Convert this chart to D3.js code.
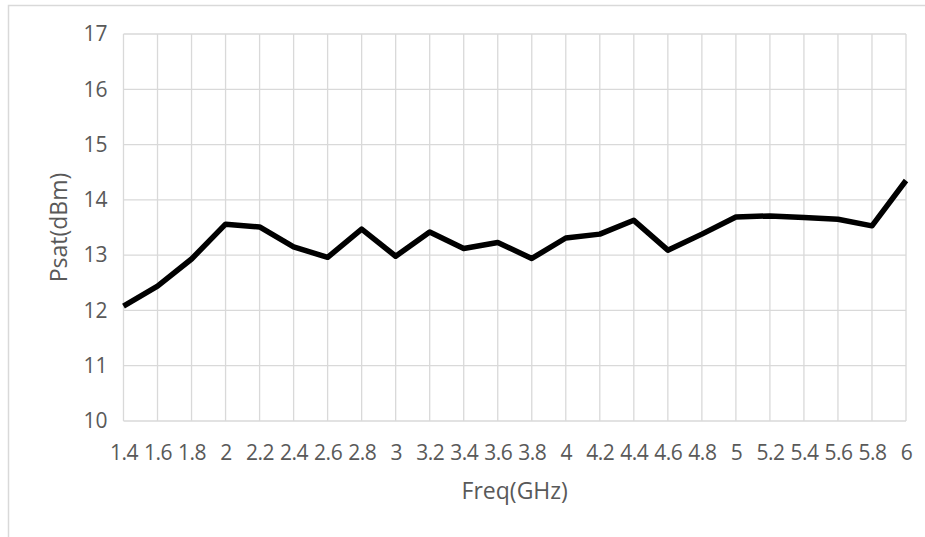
<!DOCTYPE html>
<html>
<head>
<meta charset="utf-8">
<script src="https://cdn.jsdelivr.net/npm/d3@7"></script>
<style>
  body { margin: 0; background: #fff; }
  text { font-family: "Open Sans", Lato, sans-serif; fill: #595959; }
</style>
</head>
<body>
<div id="chart"></div>
<script>
// data
const freqs = ["1.4","1.6","1.8","2","2.2","2.4","2.6","2.8","3","3.2","3.4","3.6",
  "3.8","4","4.2","4.4","4.6","4.8","5","5.2","5.4","5.6","5.8","6"];
const psat = [12.08,12.44,12.93,13.56,13.51,13.15,12.96,13.47,12.98,13.42,13.12,13.23,
  12.94,13.31,13.38,13.63,13.09,13.38,13.69,13.71,13.68,13.65,13.53,14.35];
const yTicks = [10,11,12,13,14,15,16,17];

const width = 925;
const height = 537;
const margin = { top: 34, right: 19, bottom: 116, left: 123.5 };
const innerW = width - margin.left - margin.right;
const innerH = height - margin.top - margin.bottom;

const svg = d3.select("#chart").append("svg")
  .attr("width", width)
  .attr("height", height);

// chart frame
svg.append("rect")
  .attr("x", 8.5).attr("y", 5.5)
  .attr("width", 1000).attr("height", 1000)
  .attr("fill", "none")
  .attr("stroke", "#d9d9d9")
  .attr("stroke-width", 1.5);

const g = svg.append("g")
  .attr("transform", `translate(${margin.left},${margin.top})`);

const x = d3.scalePoint().domain(freqs).range([0, innerW]);
const y = d3.scaleLinear().domain([10, 17]).range([innerH, 0]);

// grid
g.append("g")
  .selectAll("line")
  .data(yTicks)
  .enter().append("line")
  .attr("x1", 0).attr("x2", innerW)
  .attr("y1", (d) => y(d)).attr("y2", (d) => y(d))
  .attr("stroke", "#d9d9d9").attr("stroke-width", 1.3);

g.append("g")
  .selectAll("line")
  .data(freqs)
  .enter().append("line")
  .attr("x1", (d) => x(d)).attr("x2", (d) => x(d))
  .attr("y1", 0).attr("y2", innerH)
  .attr("stroke", "#d9d9d9").attr("stroke-width", 1.3);

// axes
const xAxis = g.append("g")
  .attr("transform", `translate(0,${innerH})`)
  .call(d3.axisBottom(x).tickSize(0).tickPadding(24));
xAxis.select(".domain").remove();
xAxis.selectAll("text")
  .style("font-size", "21px")
  .style("letter-spacing", "-0.5px")
  .attr("fill", "#595959");

const yAxis = g.append("g")
  .call(d3.axisLeft(y).tickValues(yTicks).tickFormat(d3.format("d")).tickSize(0).tickPadding(16));
yAxis.select(".domain").remove();
yAxis.selectAll("text").style("font-size", "21px").attr("fill", "#595959");

// line
const line = d3.line()
  .x((d, i) => x(freqs[i]))
  .y((d) => y(d));

g.append("path")
  .datum(psat)
  .attr("fill", "none")
  .attr("stroke", "#000")
  .attr("stroke-width", 5.5)
  .attr("stroke-linejoin", "round")
  .attr("d", line);

// axis titles
svg.append("text")
  .attr("x", margin.left + innerW / 2)
  .attr("y", 499)
  .attr("text-anchor", "middle")
  .style("font-size", "23px")
  .text("Freq(GHz)");

svg.append("text")
  .attr("transform", `translate(67,${margin.top + innerH / 2}) rotate(-90)`)
  .attr("text-anchor", "middle")
  .style("font-size", "23px")
  .text("Psat(dBm)");
</script>
</body>
</html>
